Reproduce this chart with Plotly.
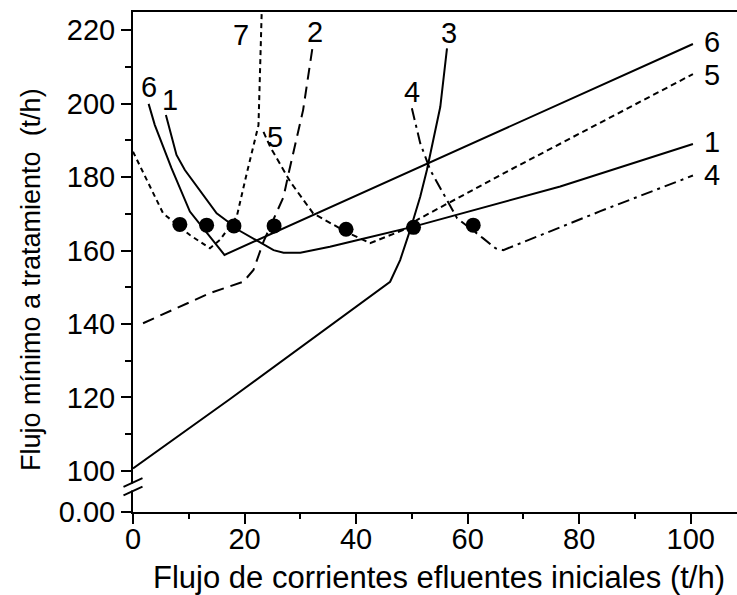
import plotly.graph_objects as go

# ---- data ----
c1_x = [5.9, 7.0, 7.8, 9.3, 15.0, 17.4, 19.2, 25.2, 27.0, 30.0, 35.3, 40.7, 50.3, 76.6, 100.4]
c1_y = [196.9, 190.1, 186.0, 181.9, 170.1, 167.4, 165.3, 160.1, 159.4, 159.4, 161.0, 163.0, 166.5, 177.4, 189.0]

c2_x = [1.8, 13.8, 19.8, 21.6, 23.4, 27.0, 27.9, 30.5, 32.3]
c2_y = [140.2, 148.4, 151.5, 154.7, 162.4, 174.6, 181.0, 198.2, 216.4]

c3_x = [0.0, 17.4, 46.1, 47.9, 49.7, 51.5, 52.7, 55.1, 56.3]
c3_y = [100.7, 119.6, 151.5, 157.4, 165.6, 174.6, 181.9, 199.1, 215.0]

c4_x = [50.0, 51.5, 53.3, 58.1, 62.8, 65.0, 66.4, 83.8, 100.4]
c4_y = [198.7, 189.2, 181.9, 168.8, 163.3, 160.6, 160.1, 170.7, 180.4]

c5_x = [23.4, 24.6, 28.2, 32.3, 38.3, 42.5, 48.5, 50.9, 67.6, 100.4]
c5_y = [192.3, 188.2, 178.7, 170.1, 165.0, 162.0, 165.6, 168.3, 181.9, 208.0]

c6_x = [2.8, 3.9, 6.9, 10.2, 16.4, 100.4]
c6_y = [199.9, 194.2, 182.4, 170.6, 158.8, 216.2]

c7_x = [0.0, 1.9, 5.4, 10.2, 13.8, 15.6, 18.6, 20.4, 22.5, 23.1]
c7_y = [186.9, 181.0, 170.1, 164.2, 160.6, 162.9, 169.2, 181.0, 194.1, 226.0]

dots_x = [8.4, 13.2, 18.1, 25.3, 38.2, 50.3, 61.0]
dots_y = [167.1, 166.9, 166.7, 166.7, 165.8, 166.3, 166.9]

label_text = ["7", "2", "3", "6", "1", "5", "4", "6", "5", "1", "4"]
label_x = [19.4, 32.6, 56.6, 2.8, 6.6, 25.5, 50.1, 103.8, 103.8, 103.8, 103.8]
label_y = [218.6, 219.5, 219.2, 204.5, 201.0, 190.9, 203.1, 216.8, 207.8, 189.6, 180.5]

y_tickvals = [88.84, 100, 120, 140, 160, 180, 200, 220]
y_ticktext = ["0.00", "100", "120", "140", "160", "180", "200", "220"]
y_minor = [110, 130, 150, 170, 190, 210]
x_tickvals = [0, 20, 40, 60, 80, 100]
x_minor = [10, 30, 50, 70, 90]

x_title = "Flujo de corrientes efluentes iniciales (t/h)"
y_title = "Flujo mínimo a tratamiento  (t/h)"

FONT = "Arial, 'Liberation Sans', sans-serif"
W, H = 737, 595
L, T, B, R = 133, 12, 83, 0

fig = go.Figure()

def line(x, y, dash):
    fig.add_trace(go.Scatter(x=x, y=y, mode="lines",
                             line=dict(color="black", width=2, dash=dash),
                             showlegend=False, hoverinfo="skip"))

line(c3_x, c3_y, "solid")
line(c6_x, c6_y, "solid")
line(c1_x, c1_y, "solid")
line(c2_x, c2_y, "12px,7px")
line(c5_x, c5_y, "6px,4px")
line(c7_x, c7_y, "5px,4px")
line(c4_x, c4_y, "12px,5px,3px,5px")

fig.add_trace(go.Scatter(x=dots_x, y=dots_y, mode="markers",
                         marker=dict(color="black", size=15),
                         showlegend=False, hoverinfo="skip"))

for t, x, y in zip(label_text, label_x, label_y):
    fig.add_annotation(x=x, y=y, text=t, showarrow=False,
                       font=dict(family=FONT, size=29, color="black"))

pw = W - L - R
ph = H - T - B
def px(xp):
    return (xp - L) / pw
def py(yp):
    return (H - B - yp) / ph

# axis titles
fig.add_annotation(xref="paper", yref="paper", x=px(439), y=py(577),
                   xanchor="center", yanchor="middle", text=x_title, showarrow=False,
                   font=dict(family=FONT, size=31, color="black"))
fig.add_annotation(xref="paper", yref="paper", x=px(31), y=py(280),
                   xanchor="center", yanchor="middle", text=y_title, showarrow=False,
                   textangle=-90, font=dict(family=FONT, size=27, color="black"))

# axis break: white gap + two slashes
fig.add_shape(type="line", xref="paper", yref="paper",
              x0=px(133), x1=px(133), y0=py(483.5), y1=py(490.5),
              line=dict(color="white", width=4), layer="above")
for yc in (482.5, 491.0):
    fig.add_shape(type="line", xref="paper", yref="paper",
                  x0=px(123.5), y0=py(yc + 4.3), x1=px(142.5), y1=py(yc - 4.3),
                  line=dict(color="black", width=2), layer="above")

fig.update_layout(
    width=W, height=H,
    margin=dict(l=L, r=R, t=T, b=B, pad=0),
    paper_bgcolor="white", plot_bgcolor="white",
    font=dict(family=FONT, size=29, color="black"),
    xaxis=dict(range=[0, 108.3], tickvals=x_tickvals, ticks="outside", ticklen=10,
               tickwidth=2, tickcolor="black", showline=True, linecolor="black",
               linewidth=2, mirror=True, showgrid=False, zeroline=False,
               tickfont=dict(size=29), ticklabelstandoff=-10,
               minor=dict(tickvals=x_minor, ticks="outside", ticklen=5, tickwidth=2,
                          tickcolor="black", showgrid=False)),
    yaxis=dict(range=[88.84, 224.9], tickvals=y_tickvals, ticktext=y_ticktext,
               ticks="outside", ticklen=10, tickwidth=2, tickcolor="black",
               showline=True, linecolor="black", linewidth=2, mirror=False,
               showgrid=False, zeroline=False, tickfont=dict(size=29),
               minor=dict(tickvals=y_minor, ticks="outside", ticklen=6, tickwidth=2,
                          tickcolor="black", showgrid=False)),
)

fig.write_html("out.html")
